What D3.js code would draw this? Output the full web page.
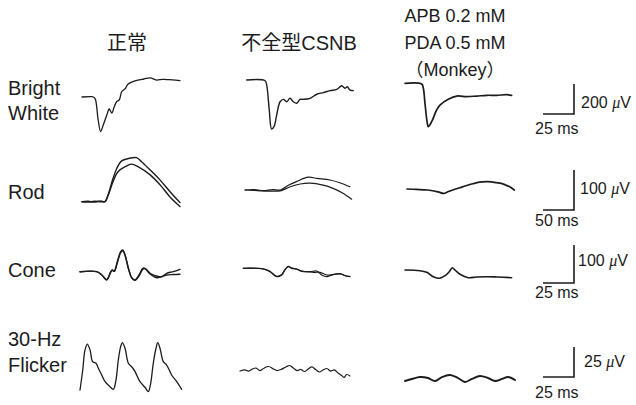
<!DOCTYPE html>
<html>
<head>
<meta charset="utf-8">
<script src="https://cdn.jsdelivr.net/npm/d3@7"></script>
<style>
  body { margin: 0; background: #fff; }
  svg { display: block; }
</style>
</head>
<body>
<svg id="chart" width="636" height="405"></svg>
<script>
// ---- Labels ----
const columnTitles = [["正常"], ["不全型CSNB"], ["APB 0.2 mM", "PDA 0.5 mM", "（Monkey）"]];
const rowTitles = [["Bright", "White"], ["Rod"], ["Cone"], ["30-Hz", "Flicker"]];

// ---- Calibration bars (per row) ----
const barMs = [25, 50, 25, 25];
const barUv = [200, 100, 100, 25];

// ---- ERG traces: [time (ms), amplitude (µV)] ----
// Bright White
const brightNormal = [[0,0],[8,2],[10,-5],[11,-20],[13,-150],[15,-230],[17,-190],[20,-120],[22,-80],[24,-108],[26,-65],[28,-30],[30,-20],[32,35],[35,58],[37,85],[41,102],[45,112],[50,120],[55,128],[60,113],[65,118],[68,116],[73,114],[79,109]];
const brightCSNB = [[0,0],[14.8,-5],[16.1,-33],[18.2,-200],[20.1,-327],[22,-311],[24.2,-233],[26.9,-145],[29.6,-129],[32.3,-145],[34.9,-122],[37.6,-145],[40.3,-155],[43,-129],[45.7,-129],[51,-122],[56.5,-95],[61.8,-84],[67.2,-71],[72.6,-62],[76.6,-38],[79.2,-55],[81.1,-45],[83.3,-67],[86,-71]];
const brightDrug = [[0,0],[13.4,-5],[14.8,-33],[16.1,-133],[18,-267],[18.8,-289],[21.5,-256],[25.5,-178],[28.2,-145],[34.9,-107],[41.7,-85],[49.7,-89],[57.8,-85],[65.9,-80],[73.9,-80],[82,-76],[86,-80]];

// Rod (two overlaid responses in the first two columns)
const rodNormalA = [[0,0],[10,1],[20,-1],[30,2],[37,0],[42,17],[50,58],[56,83],[64,102],[75,108],[88,110],[96,100],[110,79],[126,54],[142,25],[158,-2]];
const rodNormalB = [[0,0],[10,-1],[20,1],[30,0],[37,0],[42,15],[50,50],[58,75],[69,87],[80,94],[91,87],[110,67],[126,42],[142,12],[158,-12]];
const rodCSNBA = [[0,0],[15,-1],[30,-2],[45,1],[57,0],[70,12],[83,21],[102,32],[116,29],[137,25],[153,18],[169,8]];
const rodCSNBB = [[0,0],[15,1],[30,-2],[45,-3],[57,-2],[73,8],[89,15],[105,17],[126,12],[142,4],[158,-8],[172,-23]];
const rodDrug = [[0,0],[15,-1],[33,-2.5],[50,-7],[59,-11],[66,-7],[74,-2.5],[85,3],[95,8],[106,13],[117,17],[128,18.5],[136,18],[144,16],[152,14],[159,10],[165,6],[173,-2.5]];

// Cone
const coneNormalA = [[0,0],[13.5,0],[17.5,-8.7],[21.5,-21.8],[24.8,0],[26,4.5],[27.7,1.8],[30.1,26.3],[32.8,52.6],[34.4,57.1],[36.3,43.9],[39,8.9],[41.7,-15.8],[44.4,-21.8],[47.6,-8.7],[50.6,8.9],[52.4,8.9],[56.5,-4.2],[60.5,-10.5],[65.9,-13.2],[69.9,-4.2],[75.2,0],[80.6,6.3]];
const coneNormalB = [[0,0],[13.5,0],[17.5,-8],[21.5,-20.5],[24.8,-1],[26,3.5],[27.7,1],[30.1,24],[32.8,50],[34.6,55],[36.5,42],[39.2,7],[41.9,-17],[44.6,-22.5],[47.8,-10],[50.8,7],[52.6,7.5],[56.5,-6],[61.9,-15.8],[65.9,-13],[69.9,-8.7],[75.2,-7.5],[80.6,-6.8]];
const coneCSNBA = [[0,0],[16.1,-1.8],[21.5,-8.9],[26.9,-22.1],[31,-17.6],[33.6,-4.5],[36.3,4.2],[39,0],[43.1,-1.8],[47.1,-7.1],[53.8,-8.9],[59.2,-7.1],[63.2,-17.6],[67.3,-22.1],[72.6,-15.8],[78,-14.2],[82,-19.5],[86,-22.1]];
const coneCSNBB = [[0,0],[16.1,-1.5],[21.5,-8],[26.9,-21],[31,-16],[33.6,-3],[36.3,5],[39,1],[43.1,-2.5],[47.1,-8],[53.8,-9.5],[57.8,-10.5],[61.9,-10.5],[67.3,-17.6],[72.6,-16.5],[78,-14.8],[82,-19],[86,-21.5]];
const coneDrug = [[0,0],[12.1,-1.8],[17.5,-6],[22.8,-17.6],[27.7,-21.8],[32.3,-15],[35.7,-4.5],[38.1,6],[40.3,0],[44.4,-11.3],[51,-20.3],[57.8,-18.4],[65.9,-17.6],[74,-18.4],[86,-20.3]];

// 30-Hz Flicker
const flickerNormal = [[0,0],[2.2,16.7],[4,33.3],[5.9,38.3],[8.1,33.3],[10.2,23.6],[12.9,22.3],[14.8,18.1],[17.5,12.5],[20.2,6.9],[24.2,2.8],[26.9,0.6],[29,8.3],[30.9,25],[32.8,36.1],[34.1,39.4],[36.3,34.8],[39,22.3],[41.7,19.4],[44.4,15.3],[48.4,6.9],[52.4,2.3],[55.1,-1.4],[57,5.6],[59.1,22.3],[61.3,34.8],[62.7,39.4],[64.5,34.8],[67.2,23.6],[69.9,20.8],[73.9,12.5],[78,6.9],[82,0.6]];
const flickerCSNB = [[0,0.8],[4,1.7],[7,0.8],[10,2.5],[13,3.3],[16,1.2],[19,2.9],[23,4.6],[27,2.5],[30,1.2],[33,2.1],[37,4.2],[40,5.4],[43,3.3],[46,1.2],[49,2.1],[52,0.4],[55,2.5],[58,4.2],[61,2.1],[64,0],[67,1.7],[70,2.9],[73,0.8],[76,1.7],[79,-0.8],[82,-2.9],[84,-4.6],[86,-2.1],[88.7,-3.3]];
const flickerDrug = [[0,-2.5],[5.6,-0.8],[12.1,0.8],[18.5,0],[24.2,-2.5],[29.8,0.8],[36.3,2.5],[42.7,0],[48.4,-3.3],[54,-0.8],[60.5,1.7],[66.9,0],[72.6,-2.5],[78.2,-0.8],[83.1,0.8],[88.7,-1.7]];

// ---- Layout ----
const svg = d3.select("#chart");
const barLenX = 31;                 // px for one calibration-bar time span
const barLenY = [30, 40, 38, 30];   // px for one calibration-bar amplitude span
const ink = "#1c1c1c";

// Panel origins: [row, column, x at t=0, y at 0 µV, traces, stroke width]
const panels = [
  [0, 0, 82, 97, [brightNormal], 1.3],
  [0, 1, 246.7, 80, [brightCSNB], 1.4],
  [0, 2, 405, 83.3, [brightDrug], 1.7],
  [1, 0, 82, 201.7, [rodNormalA, rodNormalB], 1.4],
  [1, 1, 245, 190, [rodCSNBA, rodCSNBB], 1.2],
  [1, 2, 407, 189, [rodDrug], 1.7],
  [2, 0, 80, 271.7, [coneNormalA, coneNormalB], 1.4],
  [2, 1, 243.3, 268.3, [coneCSNBA, coneCSNBB], 1.2],
  [2, 2, 405, 270, [coneDrug], 1.6],
  [3, 0, 80, 390, [flickerNormal], 1.3],
  [3, 1, 240, 372, [flickerCSNB], 1.2],
  [3, 2, 405, 378, [flickerDrug], 1.9]
];

function scalesFor(row, x0, y0) {
  const x = d3.scaleLinear().domain([0, barMs[row]]).range([x0, x0 + barLenX]);
  const y = d3.scaleLinear().domain([0, barUv[row]]).range([y0, y0 - barLenY[row]]);
  return { x, y };
}

const traceLayer = svg.append("g").attr("fill", "none").attr("stroke", ink)
  .attr("stroke-linejoin", "round").attr("stroke-linecap", "round");

panels.forEach(([row, col, x0, y0, traces, sw]) => {
  const { x, y } = scalesFor(row, x0, y0);
  const line = d3.line().x(d => x(d[0])).y(d => y(d[1])).curve(d3.curveCatmullRom.alpha(0.5));
  traces.forEach(tr => {
    traceLayer.append("path").attr("d", line(tr)).attr("stroke-width", sw);
  });
});

// ---- Calibration bars ----
const barCornerX = 574;
const barCornerY = [114, 210, 283, 377];
const uvLabelX = [581, 580, 578, 584];
const uvLabelY = [108, 194, 266, 367];
const msLabelY = [134, 226, 298, 398];

barMs.forEach((ms, row) => {
  const { x, y } = scalesFor(row, barCornerX - barLenX, barCornerY[row]);
  svg.append("path")
    .attr("d", `M${x(0)},${y(0)}H${x(ms)}V${y(barUv[row])}`)
    .attr("fill", "none").attr("stroke", ink).attr("stroke-width", 1.6);

  const uv = svg.append("text")
    .attr("x", uvLabelX[row]).attr("y", uvLabelY[row])
    .attr("font-family", "Liberation Sans, Arial, sans-serif")
    .attr("font-size", 16).attr("fill", ink);
  uv.append("tspan").text(barUv[row] + " ");
  uv.append("tspan").attr("font-family", "Liberation Serif, serif")
    .attr("font-style", "italic").text("μ");
  uv.append("tspan").text("V");

  svg.append("text")
    .attr("x", 535).attr("y", msLabelY[row])
    .attr("font-family", "Liberation Sans, Arial, sans-serif")
    .attr("font-size", 16).attr("fill", ink)
    .text(ms + " ms");
});

// ---- Row titles ----
const rowTitleY = [[95, 120], [199], [277], [346, 372]];
rowTitles.forEach((lines, r) => {
  lines.forEach((t, i) => {
    svg.append("text")
      .attr("x", 8).attr("y", rowTitleY[r][i])
      .attr("font-family", "Liberation Sans, Arial, sans-serif")
      .attr("font-size", 20).attr("fill", ink)
      .text(t);
  });
});

// ---- Column titles ----
const colTitleX = [127, 299, 455];
const colTitleY = [[50], [50], [22, 49, 76]];
const colTitleSize = [20, 20, 18];
columnTitles.forEach((lines, c) => {
  lines.forEach((t, i) => {
    svg.append("text")
      .attr("x", colTitleX[c]).attr("y", colTitleY[c][i])
      .attr("text-anchor", "middle")
      .attr("font-family", "Liberation Sans, Arial, 'Noto Sans CJK JP', sans-serif")
      .attr("font-size", colTitleSize[c]).attr("fill", ink)
      .text(t);
  });
});
</script>
</body>
</html>
